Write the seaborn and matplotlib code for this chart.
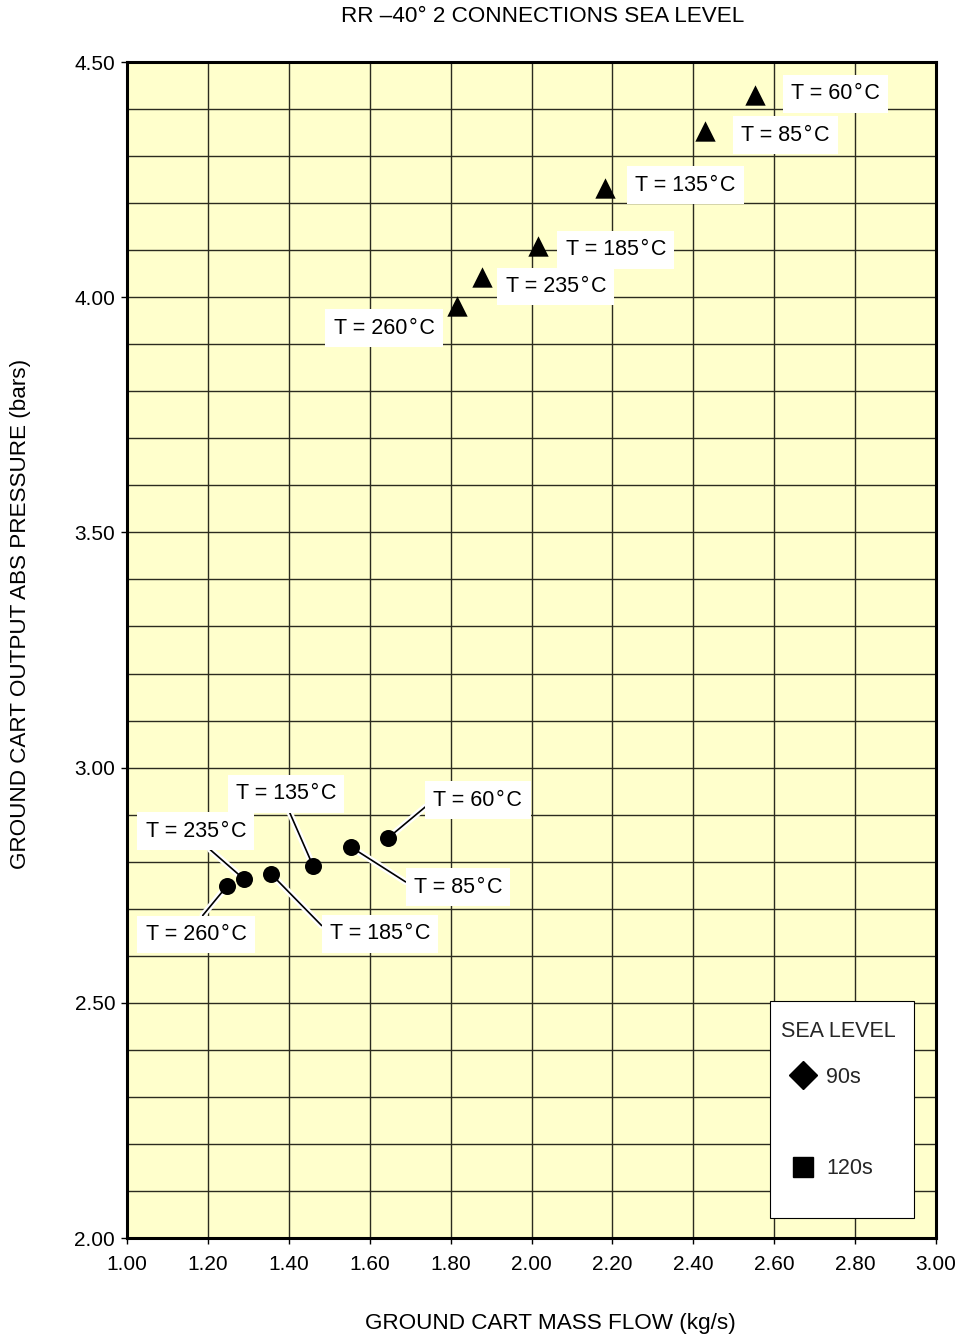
import matplotlib
matplotlib.use('Agg')
import matplotlib.pyplot as plt
import seaborn as sns
import pandas as pd
from matplotlib.lines import Line2D
from matplotlib.patches import Rectangle
from matplotlib.ticker import MultipleLocator, FormatStrFormatter
import matplotlib.patheffects as pe

# ---------------- data ----------------
temps = [60, 85, 135, 185, 235, 260]
flow_upper = [2.553, 2.429, 2.182, 2.016, 1.878, 1.816]
pres_upper = [4.430, 4.353, 4.232, 4.109, 4.043, 3.981]
flow_lower = [1.645, 1.554, 1.460, 1.356, 1.289, 1.247]
pres_lower = [2.850, 2.831, 2.791, 2.774, 2.763, 2.748]

legend_labels = ["90s", "120s"]
title = "RR \u201340\u00b0 2 CONNECTIONS SEA LEVEL"
xlabel = "GROUND CART MASS FLOW (kg/s)"
ylabel = "GROUND CART OUTPUT ABS PRESSURE (bars)"
legend_title = "SEA LEVEL"

df_up = pd.DataFrame({"flow": flow_upper, "pres": pres_upper, "T": temps})
df_lo = pd.DataFrame({"flow": flow_lower, "pres": pres_lower, "T": temps})

# ---------------- style ----------------
sns.set_theme(style="white")
plt.rcParams['font.family'] = ['Liberation Sans', 'DejaVu Sans']
FS_TICK = 15
FS_LAB = 16.2
FS_ANN = 15.5
FS_LEG = 15.5

fig = plt.figure(figsize=(9.6, 13.39), dpi=100)
ax = fig.add_axes([127/960, 1 - 1238/1339, (936-127)/960, (1238-62)/1339])
ax.set_facecolor('#FFFFCC')

sns.scatterplot(data=df_up, x="flow", y="pres", marker="^", s=215, color="black",
                edgecolor="black", linewidth=0, ax=ax, zorder=6, legend=False)
sns.scatterplot(data=df_lo, x="flow", y="pres", marker="o", s=150, color="black",
                edgecolor="black", linewidth=0, ax=ax, zorder=6, legend=False)

ax.set_xlim(1.0, 3.0)
ax.set_ylim(2.0, 4.5)
ax.xaxis.set_major_locator(MultipleLocator(0.2))
ax.yaxis.set_major_locator(MultipleLocator(0.5))
ax.yaxis.set_minor_locator(MultipleLocator(0.1))
ax.xaxis.set_major_formatter(FormatStrFormatter('%.2f'))
ax.yaxis.set_major_formatter(FormatStrFormatter('%.2f'))

ax.grid(True, which='major', axis='x', color='#2b2b1f', linewidth=1.0)
ax.grid(True, which='both', axis='y', color='#2b2b1f', linewidth=1.0)
ax.set_axisbelow(True)

ax.tick_params(axis='both', which='major', direction='out', length=4.5, width=1,
               color='black', labelsize=FS_TICK, labelcolor='black', bottom=True, left=True)
ax.tick_params(axis='x', which='major', pad=8)
ax.tick_params(axis='y', which='major', pad=4)
ax.tick_params(axis='y', which='minor', length=0, left=False)

for sp in ax.spines.values():
    sp.set_color('black')
    sp.set_linewidth(2.2)

ax.set_xlabel(xlabel, fontsize=FS_LAB, color='black')
ax.set_ylabel(ylabel, fontsize=FS_LAB, color='black')
ax.xaxis.set_label_coords((550-127)/809, -(1313-1238)/1176)
ax.yaxis.set_label_coords((31-127)/809, (1238-614)/1176)

fig.text(543/960, 1 - 17/1339, title, ha='center', va='center', fontsize=FS_LAB, color='black')

# ---------------- annotations ----------------
box = dict(boxstyle='square,pad=0.38', facecolor='white', edgecolor='none')

def lab(t):
    return f"T = {t}\u200a\u00b0\u200aC"

# upper series labels (no leader lines), offsets in points
up_off = [(58, 0.7), (58, -2.9), (58, 2.2), (56, -2.9), (53, -7), (-52.6, -15.8)]
for (x, y, t), off in zip(zip(flow_upper, pres_upper, temps), up_off):
    ax.annotate(lab(t), xy=(x, y), xytext=off, textcoords='offset points',
                ha='center', va='center', fontsize=FS_ANN, color='black', bbox=box, zorder=4)

# lower series labels with leader lines
lo_off = [(64.8, 27.4), (77, -28.8), (-19.4, 51.8), (78.5, -43.2), (-34.6, 34.6), (-22.3, -34.6)]
lo_rel = [(0, 0.5), (0, 0.5), (0.5, 0), (0, 0.5), (0.55, 0), (0.5, 1)]
halo = [pe.withStroke(linewidth=4.5, foreground='white')]
for (x, y, t), off, rp in zip(zip(flow_lower, pres_lower, temps), lo_off, lo_rel):
    ax.annotate(lab(t), xy=(x, y), xytext=off, textcoords='offset points',
                ha='center', va='center', fontsize=FS_ANN, color='black', bbox=box, zorder=4,
                arrowprops=dict(arrowstyle='-', color='black', lw=1.2, shrinkA=0, shrinkB=5,
                                relpos=rp, path_effects=halo))

# ---------------- legend ----------------
ax.add_patch(Rectangle(((770-127)/809, (1238-1218)/1176), 144/809, 217/1176,
                       transform=ax.transAxes, facecolor='white', edgecolor='black',
                       linewidth=0.8, zorder=7))
handles = [
    Line2D([], [], linestyle='none', marker='D', markersize=14, color='black', label=legend_labels[0]),
    Line2D([], [], linestyle='none', marker='', label=' '),
    Line2D([], [], linestyle='none', marker='s', markersize=14, color='black', label=legend_labels[1]),
]
leg = ax.legend(handles=handles, title=legend_title, loc='upper left',
                bbox_to_anchor=((770-127)/809, (1238-1010)/1176), borderaxespad=0,
                fontsize=FS_LEG, title_fontsize=FS_LEG, frameon=False,
                labelspacing=1.15, borderpad=0.5, handlelength=2.1, handletextpad=0.0,
                alignment='left')
leg.set_zorder(8)

fig.savefig('out.png', dpi=100)
